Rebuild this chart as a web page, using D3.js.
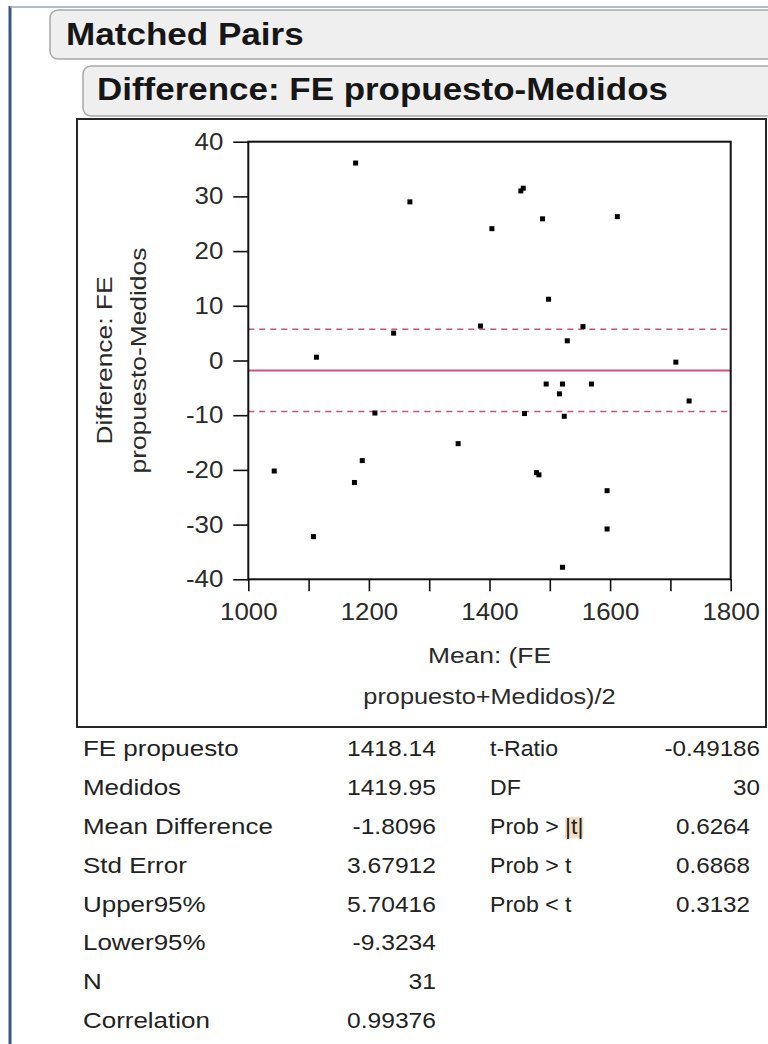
<!DOCTYPE html>
<html>
<head>
<meta charset="utf-8">
<script src="https://cdn.jsdelivr.net/npm/d3@7"></script>
<style>
  body { margin: 0; background: #fff; }
  svg { display: block; }
  text { font-family: "Liberation Sans", Arial, sans-serif; }
</style>
</head>
<body>
<svg id="chart" width="768" height="1044"></svg>
<script>
// Bland-Altman style matched-pairs plot: mean of the pair vs. difference
const pairMeans = [1178, 1268, 1456, 1452, 1404, 1488, 1612, 1498, 1385, 1555, 1241,
                   1529, 1113, 1709, 1494, 1521, 1569, 1516, 1731, 1210, 1458, 1524,
                   1348, 1043, 1189, 1176, 1478, 1482, 1595, 1595, 1108, 1521];
const pairDiffs = [36.1, 29.0, 31.5, 31.0, 24.1, 25.9, 26.3, 11.2, 6.3, 6.2, 5.0,
                   3.6, 0.6, -0.3, -4.3, -4.3, -4.3, -6.1, -7.4, -9.6, -9.7, -10.2,
                   -15.2, -20.2, -18.3, -22.3, -20.5, -20.9, -23.8, -30.8, -32.2, -37.8];

const xTickValues = [1000, 1100, 1200, 1300, 1400, 1500, 1600, 1700, 1800];
const xLabelValues = [1000, 1200, 1400, 1600, 1800];
const yTickValues = [-40, -30, -20, -10, 0, 10, 20, 30, 40];

const summaryLabels = ["FE propuesto", "Medidos", "Mean Difference", "Std Error",
                       "Upper95%", "Lower95%", "N", "Correlation"];
const summaryValues = ["1418.14", "1419.95", "-1.8096", "3.67912",
                       "5.70416", "-9.3234", "31", "0.99376"];
const testLabels = ["t-Ratio", "DF", "Prob > |t|", "Prob > t", "Prob < t"];
const testValues = ["-0.49186", "30", "0.6264", "0.6868", "0.3132"];

const meanDiff = +summaryValues[2];
const upper95 = +summaryValues[4];
const lower95 = +summaryValues[5];

const svg = d3.select("#chart");

// widen glyphs horizontally around each text's own anchor point
function widen(sel, sx) {
  sel.each(function () {
    const t = d3.select(this);
    const x = +t.attr("x") || 0, y = +t.attr("y") || 0;
    t.attr("transform", `translate(${x},${y}) scale(${sx},1) translate(${-x},${-y})`);
  });
}

// window chrome: left rail and top rule
svg.append("rect").attr("x", 8.5).attr("y", 6).attr("width", 3).attr("height", 1044)
  .attr("fill", "#3b5580");
svg.append("line").attr("x1", 10).attr("x2", 768).attr("y1", 7).attr("y2", 7)
  .attr("stroke", "#9aa6b8").attr("stroke-width", 1.5);

// outline headers
function header(x, y, h, label, size, sx, tx, ty) {
  svg.append("rect").attr("x", x).attr("y", y).attr("width", 800).attr("height", h)
    .attr("rx", 8).attr("fill", "#efefef").attr("stroke", "#a8a8a8").attr("stroke-width", 1.5);
  svg.append("text").attr("x", tx).attr("y", ty).attr("font-size", size)
    .attr("font-weight", "bold").attr("fill", "#161616").text(label)
    .call(widen, sx);
}
header(50, 10, 49, "Matched Pairs", 30.5, 1.15, 66, 45);
header(83, 66, 50, "Difference: FE propuesto-Medidos", 31.5, 1.11, 97, 100);

// plot frame
svg.append("rect").attr("x", 77).attr("y", 119).attr("width", 689).attr("height", 608)
  .attr("fill", "#fff").attr("stroke", "#262626").attr("stroke-width", 2);

const plot = { left: 248.3, right: 730.7, top: 141.7, bottom: 579.3 };
const x = d3.scaleLinear().domain([1000, 1800]).range([plot.left, plot.right]);
const y = d3.scaleLinear().domain([-40, 40]).range([plot.bottom, plot.top]);

// axes
const xAxis = svg.append("g").attr("transform", `translate(0,${plot.bottom})`)
  .call(d3.axisBottom(x).tickValues(xTickValues).tickSizeInner(12).tickSizeOuter(0)
    .tickFormat(d => xLabelValues.includes(d) ? String(d) : ""));
xAxis.selectAll("text").attr("y", 41).attr("dy", 0).attr("font-size", 23.5)
  .attr("font-family", "Liberation Sans, Arial, sans-serif").attr("fill", "#2a2a2a")
  .call(widen, 1.1);

const yAxis = svg.append("g").attr("transform", `translate(${plot.left},0)`)
  .call(d3.axisLeft(y).tickValues(yTickValues).tickSizeInner(15).tickSizeOuter(0)
    .tickPadding(10).tickFormat(d => String(d)));
yAxis.selectAll("text").attr("font-size", 23.5)
  .attr("font-family", "Liberation Sans, Arial, sans-serif").attr("fill", "#2a2a2a")
  .call(widen, 1.1);

svg.selectAll(".tick line").attr("stroke", "#111").attr("stroke-width", 1.6);
svg.selectAll(".domain").remove();

// reference lines: mean difference and its 95% limits
const refLines = [
  { v: upper95, dash: "6,5", w: 1.5, c: "#c4527c" },
  { v: lower95, dash: "6,5", w: 1.5, c: "#c4527c" },
  { v: meanDiff, dash: null, w: 2, c: "#d4517a" }
];
svg.append("g").selectAll("line").data(refLines).join("line")
  .attr("x1", plot.left).attr("x2", plot.right)
  .attr("y1", d => y(d.v)).attr("y2", d => y(d.v))
  .attr("stroke", d => d.c).attr("stroke-width", d => d.w)
  .attr("stroke-dasharray", d => d.dash);

// points
const pts = pairMeans.map((m, i) => ({ m, d: pairDiffs[i] }));
svg.append("g").selectAll("rect").data(pts).join("rect")
  .attr("x", p => x(p.m) - 2.5).attr("y", p => y(p.d) - 2.5)
  .attr("width", 5).attr("height", 5).attr("fill", "#000");

// plot box
svg.append("rect").attr("x", plot.left).attr("y", plot.top)
  .attr("width", plot.right - plot.left).attr("height", plot.bottom - plot.top)
  .attr("fill", "none").attr("stroke", "#111").attr("stroke-width", 2);

// axis titles
const cx = (plot.left + plot.right) / 2;
svg.append("text").attr("x", cx).attr("y", 663).attr("text-anchor", "middle")
  .attr("font-size", 22).attr("fill", "#2a2a2a").text("Mean: (FE").call(widen, 1.2);
svg.append("text").attr("x", cx).attr("y", 704).attr("text-anchor", "middle")
  .attr("font-size", 22).attr("fill", "#2a2a2a").text("propuesto+Medidos)/2").call(widen, 1.15);

const cy = (plot.top + plot.bottom) / 2;
svg.append("text").attr("transform", `translate(112,${cy}) rotate(-90) scale(1.2,1)`)
  .attr("text-anchor", "middle").attr("font-size", 22).attr("fill", "#2a2a2a")
  .text("Difference: FE");
svg.append("text").attr("transform", `translate(146,${cy}) rotate(-90) scale(1.2,1)`)
  .attr("text-anchor", "middle").attr("font-size", 22).attr("fill", "#2a2a2a")
  .text("propuesto-Medidos");

// summary table
const tableSx = 1.18;
const rowY = i => 756 + i * 38.9;
const tbl = svg.append("g").attr("font-size", 22).attr("fill", "#222");

// soft highlight behind the |t| of "Prob > |t|"
const hl = tbl.append("rect").attr("fill", "#f2d6b4").attr("opacity", 0.8);

tbl.selectAll("text.l1").data(summaryLabels).join("text").attr("class", "l1")
  .attr("x", 83).attr("y", (d, i) => rowY(i)).text(d => d).call(widen, tableSx);
tbl.selectAll("text.v1").data(summaryValues).join("text").attr("class", "v1")
  .attr("x", 436).attr("y", (d, i) => rowY(i)).attr("text-anchor", "end").text(d => d)
  .call(widen, 1.12);
const l2 = tbl.selectAll("text.l2").data(testLabels).join("text").attr("class", "l2")
  .attr("x", 490).attr("y", (d, i) => rowY(i)).text(d => d).call(widen, 1.05);
tbl.selectAll("text.v2").data(testValues).join("text").attr("class", "v2")
  .attr("x", (d, i) => i < 2 ? 760 : 750).attr("y", (d, i) => rowY(i))
  .attr("text-anchor", "end").text(d => d).call(widen, 1.1);

const probNode = l2.filter((d, i) => i === 2).node();
const pre = probNode.getSubStringLength(0, 7) * 1.05;
const bar = probNode.getSubStringLength(7, 3) * 1.05;
hl.attr("x", 490 + pre).attr("y", rowY(2) - 17).attr("width", bar).attr("height", 21);
</script>
</body>
</html>
